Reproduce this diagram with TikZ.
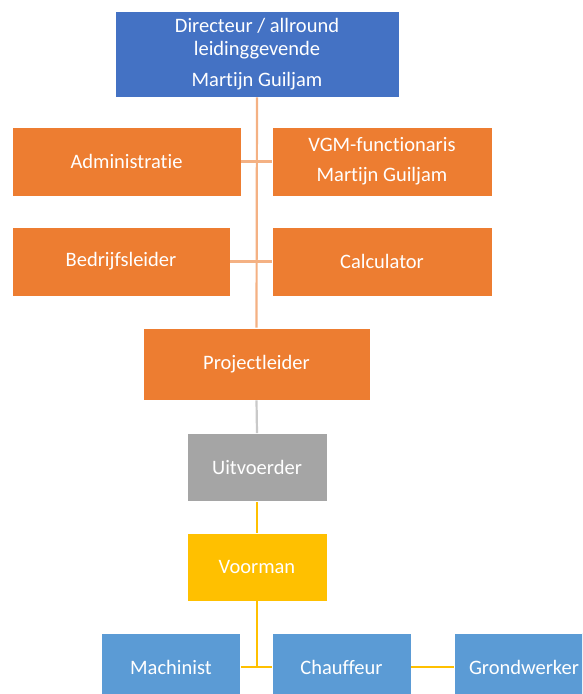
\documentclass[tikz,border=0pt]{standalone}
\usepackage{fontspec}
\setmainfont{Carlito}[Ligatures=NoCommon]
\definecolor{cblue}{HTML}{4472C4}
\definecolor{corange}{HTML}{ED7D31}
\definecolor{cgray}{HTML}{A5A5A5}
\definecolor{cyellow}{HTML}{FFC000}
\definecolor{clblue}{HTML}{5B9BD5}
\definecolor{lorange}{HTML}{F4B183}
\definecolor{lgray}{HTML}{C9C9C9}
\definecolor{lyellow}{HTML}{FFC000}
\begin{document}
\begin{tikzpicture}[x=1pt,y=-1pt,
  box/.style={draw=white,line width=0.6pt,text=white,align=center,inner sep=0pt,
    font=\fontsize{20.5}{23}\selectfont},
  obox/.style={box,fill=corange},
  link/.style={line width=2.2pt}]
\useasboundingbox (0,0) rectangle (582,694);
\begin{scope}
\clip (0,0) rectangle (582,694);
\node[box,fill=cblue,minimum width=284pt,minimum height=86pt] (dir) at (257,54)
  {Directeur / allround\\leidinggevende\\[8pt]Martijn Guiljam};
\node[obox,minimum width=229pt,minimum height=69pt] (admin) at (126.5,161.5) {Administratie};
\node[obox,minimum width=220pt,minimum height=69pt] (vgm) at (382,161.5) {VGM-functionaris\\[7pt]Martijn Guiljam};
\node[obox,minimum width=218pt,minimum height=69pt] (bedr) at (121,261.5) {Bedrijfsleider};
\node[obox,minimum width=220pt,minimum height=69pt] (calc) at (382,261.5) {Calculator};
\node[obox,minimum width=227pt,minimum height=72pt] (proj) at (256.5,364) {Projectleider};
\node[box,fill=cgray,minimum width=140pt,minimum height=68pt] (uitv) at (257,467.5) {Uitvoerder};
\node[box,fill=cyellow,minimum width=140pt,minimum height=68pt] (voor) at (257,567) {Voorman};
\node[box,fill=clblue,minimum width=139pt,minimum height=68pt] (mach) at (171,667) {Machinist};
\node[box,fill=clblue,minimum width=139pt,minimum height=68pt] (chauf) at (341.5,667) {Chauffeur};
\node[box,fill=clblue,minimum width=140pt,minimum height=68pt] (grond) at (524,667) {Grondwerker};
\coordinate (junc) at (257,667);
\draw[link,lorange] (dir.south) -- (proj.north);
\draw[link,lorange] (admin.east) -- (vgm.west);
\draw[link,lorange] (bedr.east) -- (calc.west);
\draw[link,lgray] (proj.south) -- (uitv.north);
\draw[link,lyellow] (uitv.south) -- (voor.north);
\draw[link,lyellow] (voor.south) -- (junc);
\draw[link,lyellow] (mach.east) -- (chauf.west);
\draw[link,lyellow] (chauf.east) -- (grond.west);
\end{scope}
\end{tikzpicture}
\end{document}
